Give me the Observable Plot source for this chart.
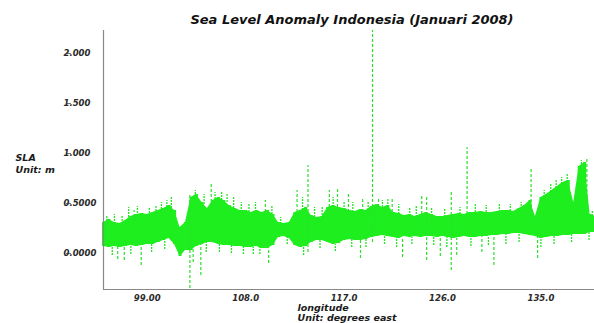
<!DOCTYPE html>
<html>
<head>
<meta charset="utf-8">
<script src="https://cdn.jsdelivr.net/npm/d3@7"></script>
<script src="https://cdn.jsdelivr.net/npm/@observablehq/plot@0.6"></script>
<style>
  html, body { margin: 0; padding: 0; background: #fff; width: 594px; height: 323px; overflow: hidden; }
  #title { height: 28px; width: 594px; position: relative; font-family: "DejaVu Sans", sans-serif; font-weight: bold; font-style: italic; font-size: 13px; color: #111; }
  #title span { position: absolute; left: 352px; top: 12px; transform: translateX(-50%); white-space: nowrap; }
  svg { display: block; }
</style>
</head>
<body>
<div id="title"><span>Sea Level Anomaly Indonesia (Januari 2008)</span></div>
<div id="chart"></div>
<script>
// Band envelope (upper / lower) of the dense SLA trace, every 0.5° longitude
const lon = [95,95.5,96,96.5,97,97.5,98,98.5,99,99.5,100,100.5,101,101.5,102,102.5,103,103.5,104,104.5,105,105.5,106,106.5,107,107.5,108,108.5,109,109.5,110,110.5,111,111.5,112,112.5,113,113.5,114,114.5,115,115.5,116,116.5,117,117.5,118,118.5,119,119.5,120,120.5,121,121.5,122,122.5,123,123.5,124,124.5,125,125.5,126,126.5,127,127.5,128,128.5,129,129.5,130,130.5,131,131.5,132,132.5,133,133.5,134,134.5,135,135.5,136,136.5,137,137.5,138,138.5,139,139.5,140];
const upper = [0.30,0.33,0.30,0.29,0.32,0.36,0.38,0.39,0.38,0.40,0.42,0.44,0.47,0.42,0.25,0.30,0.55,0.58,0.50,0.44,0.52,0.55,0.52,0.47,0.44,0.42,0.42,0.40,0.42,0.40,0.42,0.38,0.30,0.29,0.30,0.40,0.42,0.45,0.37,0.35,0.36,0.45,0.47,0.45,0.44,0.42,0.41,0.43,0.42,0.46,0.48,0.45,0.47,0.40,0.39,0.37,0.38,0.36,0.38,0.40,0.38,0.36,0.36,0.37,0.38,0.39,0.38,0.40,0.40,0.41,0.40,0.40,0.41,0.42,0.42,0.41,0.44,0.47,0.52,0.36,0.55,0.58,0.62,0.66,0.70,0.72,0.50,0.86,0.90,0.38,0.36];
const lower = [0.06,0.05,0.06,0.05,0.06,0.07,0.06,0.07,0.08,0.08,0.10,0.12,0.14,0.08,-0.04,0.02,0.02,0.06,0.08,0.10,0.10,0.08,0.07,0.07,0.06,0.06,0.05,0.05,0.06,0.04,0.04,0.07,0.15,0.16,0.14,0.07,0.05,0.06,0.10,0.12,0.12,0.10,0.08,0.09,0.12,0.13,0.12,0.12,0.13,0.15,0.16,0.17,0.16,0.15,0.14,0.16,0.15,0.16,0.15,0.16,0.16,0.15,0.16,0.15,0.14,0.15,0.16,0.15,0.15,0.16,0.16,0.17,0.17,0.18,0.18,0.19,0.19,0.18,0.17,0.16,0.14,0.15,0.16,0.16,0.17,0.17,0.18,0.18,0.18,0.20,0.20];

// Isolated large spikes (dashed excursions)
const spikeLon = [96.3,96.9,97.8,98.45,102.9,103.2,103.9,104.85,109.8,110.1,112.7,113.7,115.65,116.4,117.4,118.5,118.7,119.6,120.15,121.4,122.35,124.1,124.55,125.8,126.8,127.3,128.25,129.6,130.7,134.1,134.7,139.2];
const spikeLo  = [-0.07,-0.08,0.30,-0.13,-0.36,-0.10,-0.23,0.45,0.40,-0.11,0.40,0.00,0.40,0.40,0.40,-0.06,0.40,0.10,0.45,0.40,-0.05,0.38,-0.08,-0.04,-0.18,-0.03,0.38,0.00,-0.13,0.30,-0.06,0.50];
const spikeHi  = [0.06,0.06,0.42,0.07,0.57,0.05,0.08,0.70,0.52,0.05,0.62,0.87,0.62,0.65,0.60,0.12,0.55,2.22,0.55,0.55,0.15,0.57,0.57,0.15,0.60,0.14,1.05,0.16,0.17,0.85,0.16,0.93];

// Small excursions along the band edges
const minorLon = [95.3,96.0,96.7,97.3,98.1,99.2,99.8,100.3,100.8,101.2,103.4,104.2,105.2,105.8,106.3,106.9,107.6,108.3,108.9,110.4,111.2,113.2,114.3,115.0,116.0,117.0,117.8,119.2,120.5,121.0,122.0,123.0,123.6,125.0,126.2,127.6,129.0,130.0,131.2,132.2,133.2,135.3,135.9,136.4,136.9,137.4,138.7,139.7,
                  95.8,97.5,99.4,100.6,104.4,105.6,106.7,107.8,108.7,109.3,111.8,113.3,114.8,116.2,117.7,119.0,120.7,121.8,123.2,125.2,126.4,128.6,130.2,131.8,133.0,135.0,136.2,137.8,139.4];
const minorLo  = [0.28,0.28,0.28,0.32,0.36,0.36,0.38,0.40,0.42,0.44,0.55,0.48,0.50,0.52,0.50,0.44,0.40,0.40,0.40,0.38,0.28,0.42,0.35,0.34,0.45,0.42,0.40,0.42,0.45,0.45,0.38,0.36,0.35,0.36,0.35,0.38,0.40,0.40,0.40,0.41,0.43,0.55,0.60,0.64,0.68,0.70,0.85,0.36,
                  -0.03,-0.02,0.00,0.03,0.00,0.00,-0.01,-0.02,-0.02,-0.02,0.08,-0.03,0.04,0.01,0.05,0.05,0.08,0.05,0.08,0.07,0.05,0.06,0.07,0.08,0.10,0.05,0.08,0.10,0.12];
const minorHi  = [0.36,0.38,0.37,0.45,0.46,0.45,0.47,0.50,0.52,0.55,0.62,0.58,0.60,0.60,0.58,0.55,0.50,0.48,0.50,0.46,0.35,0.55,0.45,0.45,0.55,0.50,0.50,0.50,0.52,0.53,0.48,0.45,0.47,0.45,0.44,0.45,0.48,0.47,0.48,0.48,0.50,0.62,0.68,0.72,0.75,0.78,0.92,0.42,
                  0.06,0.07,0.08,0.12,0.10,0.08,0.07,0.06,0.05,0.06,0.16,0.06,0.12,0.08,0.13,0.13,0.17,0.15,0.15,0.16,0.15,0.15,0.16,0.18,0.19,0.14,0.16,0.18,0.20];

// Axis ticks
const xTicks = [99,108,117,126,135];
const xTickLabels = ["99.00","108.0","117.0","126.0","135.0"];
const yTicks = [0,0.5,1,1.5,2];
const yTickLabels = ["0.0000","0.5000","1.000","1.500","2.000"];
const xDomain = [95,139.9];
const yDomain = [-0.37,2.22];

const band = lon.map((x,i)=>({lon:x, hi:upper[i], lo:lower[i]}));
const spikes = spikeLon.map((x,i)=>({lon:x, lo:spikeLo[i], hi:spikeHi[i]}));
const minor = minorLon.map((x,i)=>({lon:x, lo:minorLo[i], hi:minorHi[i]}));

const green = "#1eee1e";
const font = "DejaVu Sans, sans-serif";

const chart = Plot.plot({
  width: 594,
  height: 295,
  marginTop: 2,
  marginBottom: 34,
  marginLeft: 103,
  marginRight: 0,
  style: {fontFamily: font, background: "#fff", overflow: "visible"},
  x: {domain: xDomain},
  y: {domain: yDomain},
  marks: [
    Plot.areaY(band, {x: "lon", y1: "lo", y2: "hi", fill: green, curve: "linear"}),
    Plot.ruleX(band, {x: "lon", y1: "lo", y2: "hi", stroke: green, strokeWidth: 3}),
    Plot.ruleX(minor, {x: "lon", y1: "lo", y2: "hi", stroke: "#22e622", strokeWidth: 1.3, strokeDasharray: "2,1"}),
    Plot.ruleX(spikes, {x: "lon", y1: "lo", y2: "hi", stroke: "#2be02b", strokeWidth: 1.2, strokeDasharray: "3,2"}),
    Plot.ruleX([xDomain[0]], {stroke: "#888", strokeWidth: 1.2}),
    Plot.ruleY([yDomain[0]], {stroke: "#888", strokeWidth: 1.2}),
    Plot.axisY(yTicks, {
      tickSize: 5, tickPadding: 3, stroke: "#777",
      tickFormat: (d,i) => yTickLabels[i],
      textAnchor: "start", dx: -32, dy: 1,
      fill: "#2a2a2a", fontSize: 8.5, fontWeight: "bold", fontStyle: "italic",
      label: null
    }),
    Plot.axisX(xTicks, {
      tickSize: 0, tickPadding: 5,
      tickFormat: (d,i) => xTickLabels[i],
      fill: "#2a2a2a", fontSize: 8.5, fontWeight: "bold", fontStyle: "italic",
      label: null
    }),
    Plot.text(["SLA\nUnit: m"], {
      frameAnchor: "left", textAnchor: "start", lineAnchor: "middle",
      dx: -88, dy: 3, fontSize: 9.5, fontWeight: "bold", fontStyle: "italic", fill: "#1a1a1a", lineHeight: 1.25
    }),
    Plot.text(["longitude\nUnit: degrees east"], {
      frameAnchor: "bottom", textAnchor: "start", lineAnchor: "top",
      dx: -51.5, dy: 15, fontSize: 9.5, fontWeight: "bold", fontStyle: "italic", fill: "#1a1a1a", lineHeight: 1.0
    })
  ]
});
document.getElementById("chart").appendChild(chart);
</script>
</body>
</html>
